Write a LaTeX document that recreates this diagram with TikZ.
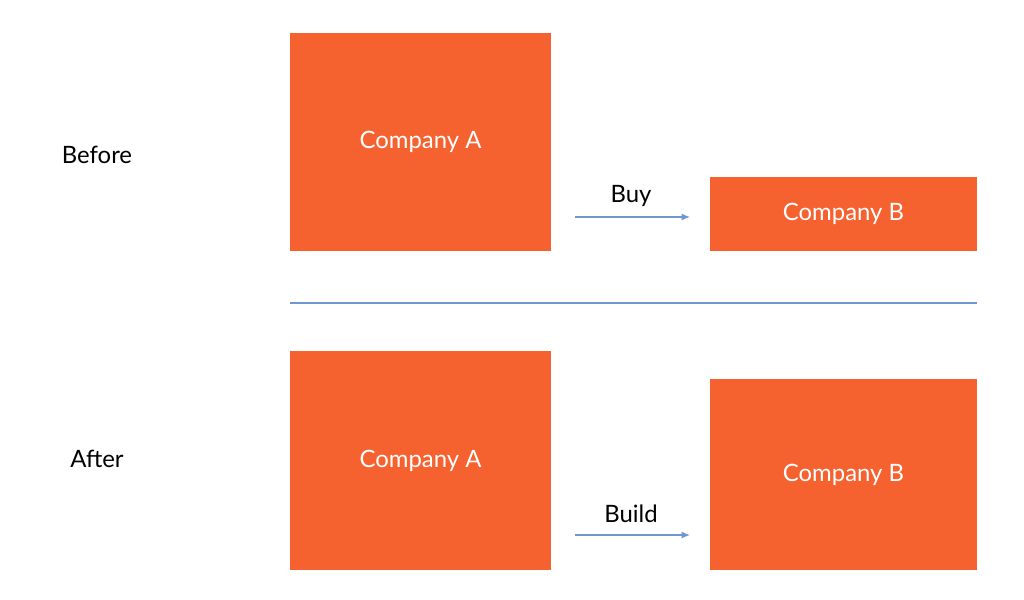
\documentclass[tikz,border=0pt]{standalone}
\usepackage{fontspec}
\setmainfont{Lato}
\usepackage{tikz}
\usetikzlibrary{calc,positioning,arrows.meta}
\definecolor{boxorange}{HTML}{F5622F}
\definecolor{lineblue}{HTML}{6F96D1}

\begin{document}
\begin{tikzpicture}[
			x=0.025cm, y=-0.025cm,
			company/.style={fill=boxorange, text=white, inner sep=0pt, font=\fontsize{17}{20}\selectfont},
			label/.style={font=\fontsize{17}{20}\selectfont, inner sep=0pt},
			move/.style={draw=lineblue, line width=0.9pt, -{Latex[length=6pt,width=5pt]}}
		]
		\useasboundingbox (0,0) rectangle (1024,599);
		% before
		\node[label] (before) at (97,155) {Before};
		\node[company, minimum width=261*0.025cm, minimum height=218*0.025cm] (topa) at (420.5,142) {Company A};
		\node[company, minimum width=267*0.025cm, minimum height=74*0.025cm] (topb) at (843.5,214) {Company B};
		\coordinate (buystart) at (575,217);
		\coordinate (buyend) at (690,217);
		\draw[move] (buystart) -- (buyend);
		\node[label] (buy) at (631,196) {Buy};
		% divider
		\coordinate (divl) at (290,303);
		\coordinate (divr) at (977,303);
		\draw[draw=lineblue, line width=1pt] (divl) -- (divr);
		% after
		\node[label] (after) at (97,459) {After};
		\node[company, minimum width=261*0.025cm, minimum height=219*0.025cm] (bota) at (420.5,460.5) {Company A};
		\node[company, minimum width=267*0.025cm, minimum height=191*0.025cm] (botb) at (843.5,474.5) {Company B};
		\coordinate (buildstart) at (575,535);
		\coordinate (buildend) at (690,535);
		\draw[move] (buildstart) -- (buildend);
		\node[label] (build) at (631,514) {Build};
	\end{tikzpicture}
\end{document}
